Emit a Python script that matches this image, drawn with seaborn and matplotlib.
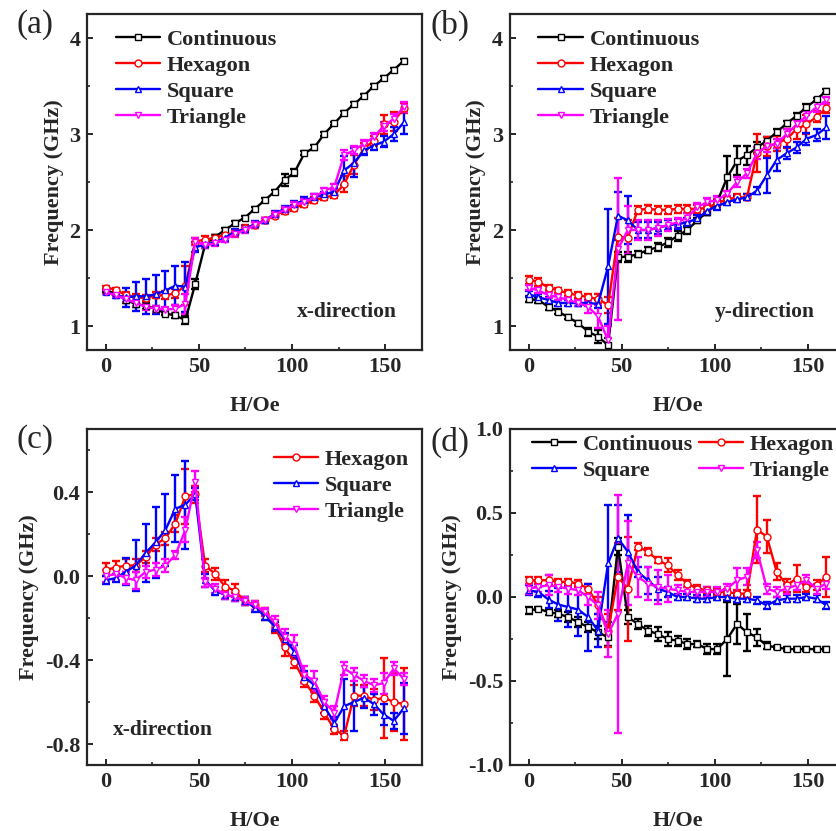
import numpy as np
import pandas as pd
import seaborn as sns
import matplotlib
matplotlib.use("Agg")
import matplotlib.pyplot as plt
from matplotlib.ticker import MultipleLocator

# field values (Oe)
H = [0, 5.3, 10.7, 16, 21.3, 26.7, 32, 37.3, 42.7, 48, 53.3, 58.7, 64, 69.3, 74.7, 80,
     85.3, 90.7, 96, 101.3, 106.7, 112, 117.3, 122.7, 128, 133.3, 138.7, 144, 149.3, 154.7, 160]

# (a) x-direction
a_cont = [1.37, 1.34, 1.27, 1.23, 1.21, 1.18, 1.13, 1.11, 1.06, 1.44, 1.85, 1.93, 2.00, 2.07, 2.13, 2.22,
          2.31, 2.40, 2.52, 2.60, 2.80, 2.86, 3.00, 3.11, 3.22, 3.31, 3.40, 3.50, 3.58, 3.67, 3.76]
a_cont_err = [0.02, 0.02, 0.03, 0.03, 0.03, 0.03, 0.02, 0.03, 0.04, 0.05, 0.03, 0.02, 0.02, 0.02, 0.02, 0.02,
              0.02, 0.02, 0.06, 0.04, 0.02, 0.03, 0.02, 0.02, 0.02, 0.02, 0.02, 0.02, 0.02, 0.02, 0.02]
a_hex = [1.40, 1.38, 1.32, 1.30, 1.29, 1.32, 1.32, 1.34, 1.42, 1.88, 1.90, 1.92, 1.95, 1.97, 2.02, 2.05,
         2.10, 2.15, 2.20, 2.23, 2.27, 2.31, 2.34, 2.36, 2.48, 2.68, 2.85, 2.93, 3.10, 3.13, 3.27]
a_hex_err = [0.02, 0.02, 0.03, 0.03, 0.03, 0.03, 0.04, 0.05, 0.20, 0.04, 0.04, 0.03, 0.03, 0.03, 0.03, 0.03,
             0.03, 0.03, 0.03, 0.03, 0.03, 0.03, 0.03, 0.03, 0.08, 0.10, 0.06, 0.05, 0.10, 0.10, 0.05]
a_sq = [1.35, 1.32, 1.30, 1.31, 1.31, 1.33, 1.37, 1.42, 1.41, 1.82, 1.85, 1.87, 1.92, 1.98, 2.01, 2.06,
        2.10, 2.17, 2.22, 2.27, 2.31, 2.34, 2.37, 2.40, 2.62, 2.70, 2.83, 2.88, 2.92, 3.00, 3.12]
a_sq_err = [0.02, 0.03, 0.10, 0.15, 0.18, 0.20, 0.20, 0.20, 0.26, 0.05, 0.04, 0.03, 0.03, 0.03, 0.03, 0.03,
            0.03, 0.03, 0.03, 0.03, 0.03, 0.03, 0.03, 0.04, 0.15, 0.15, 0.05, 0.05, 0.06, 0.07, 0.12]
a_tri = [1.35, 1.32, 1.28, 1.24, 1.20, 1.18, 1.17, 1.18, 1.23, 1.88, 1.84, 1.86, 1.90, 1.96, 2.00, 2.05,
         2.10, 2.16, 2.21, 2.26, 2.29, 2.34, 2.41, 2.45, 2.78, 2.83, 2.90, 2.97, 3.08, 3.16, 3.28]
a_tri_err = [0.02, 0.02, 0.03, 0.03, 0.03, 0.03, 0.03, 0.04, 0.10, 0.04, 0.03, 0.03, 0.03, 0.03, 0.03, 0.03,
             0.03, 0.03, 0.03, 0.03, 0.03, 0.03, 0.03, 0.03, 0.05, 0.04, 0.04, 0.04, 0.05, 0.05, 0.05]

# (b) y-direction
b_cont = [1.28, 1.27, 1.20, 1.15, 1.09, 1.03, 0.94, 0.89, 0.80, 1.72, 1.72, 1.75, 1.79, 1.82, 1.87, 1.94,
          2.00, 2.10, 2.19, 2.29, 2.55, 2.72, 2.78, 2.86, 2.93, 3.02, 3.11, 3.19, 3.28, 3.36, 3.45]
b_cont_err = [0.03, 0.03, 0.03, 0.03, 0.02, 0.02, 0.04, 0.07, 0.08, 0.05, 0.05, 0.03, 0.03, 0.04, 0.05, 0.05,
              0.04, 0.03, 0.03, 0.03, 0.22, 0.15, 0.10, 0.06, 0.04, 0.03, 0.03, 0.03, 0.03, 0.02, 0.02]
b_hex = [1.48, 1.46, 1.40, 1.37, 1.34, 1.32, 1.30, 1.28, 1.22, 1.93, 1.92, 2.21, 2.22, 2.21, 2.21, 2.22,
         2.22, 2.22, 2.23, 2.28, 2.32, 2.34, 2.34, 2.80, 2.87, 2.90, 2.95, 3.05, 3.10, 3.18, 3.27]
b_hex_err = [0.04, 0.04, 0.03, 0.03, 0.03, 0.03, 0.03, 0.05, 0.08, 0.20, 0.18, 0.04, 0.04, 0.04, 0.04, 0.04,
             0.04, 0.04, 0.04, 0.04, 0.03, 0.03, 0.03, 0.20, 0.10, 0.08, 0.10, 0.10, 0.10, 0.06, 0.05]
b_sq = [1.33, 1.30, 1.27, 1.24, 1.24, 1.24, 1.24, 1.23, 1.62, 2.15, 2.10, 2.00, 2.00, 2.02, 2.05, 2.06,
        2.08, 2.12, 2.20, 2.25, 2.29, 2.32, 2.34, 2.41, 2.57, 2.73, 2.80, 2.86, 2.95, 2.99, 3.07]
b_sq_err = [0.03, 0.03, 0.03, 0.03, 0.03, 0.03, 0.03, 0.04, 0.60, 0.25, 0.25, 0.08, 0.08, 0.06, 0.05, 0.05,
            0.05, 0.04, 0.04, 0.04, 0.03, 0.03, 0.03, 0.04, 0.18, 0.12, 0.06, 0.06, 0.06, 0.06, 0.12]
b_tri = [1.40, 1.37, 1.32, 1.30, 1.27, 1.24, 1.20, 1.10, 0.85, 1.80, 2.00, 2.00, 2.00, 2.02, 2.05, 2.08,
         2.13, 2.24, 2.29, 2.31, 2.38, 2.50, 2.59, 2.80, 2.87, 2.90, 3.00, 3.10, 3.19, 3.28, 3.35]
b_tri_err = [0.03, 0.03, 0.03, 0.03, 0.03, 0.03, 0.06, 0.12, 0.15, 0.74, 0.25, 0.10, 0.10, 0.08, 0.06, 0.05,
             0.05, 0.04, 0.04, 0.04, 0.03, 0.05, 0.05, 0.06, 0.06, 0.05, 0.05, 0.05, 0.05, 0.05, 0.04]

# (c) x-direction, difference
c_hex = [0.03, 0.04, 0.05, 0.05, 0.09, 0.15, 0.18, 0.25, 0.38, 0.39, 0.05, 0.01, -0.05, -0.07, -0.12, -0.14,
         -0.18, -0.24, -0.34, -0.41, -0.50, -0.57, -0.65, -0.73, -0.76, -0.57, -0.57, -0.59, -0.58, -0.60, -0.61]
c_hex_err = [0.03, 0.03, 0.03, 0.03, 0.03, 0.03, 0.03, 0.04, 0.13, 0.04, 0.03, 0.03, 0.03, 0.03, 0.02, 0.02,
             0.03, 0.03, 0.04, 0.03, 0.03, 0.03, 0.03, 0.02, 0.02, 0.05, 0.05, 0.05, 0.19, 0.14, 0.17]
c_sq = [-0.02, -0.01, 0.02, 0.05, 0.11, 0.16, 0.22, 0.32, 0.34, 0.39, -0.02, -0.07, -0.09, -0.10, -0.12, -0.15,
        -0.19, -0.24, -0.30, -0.36, -0.48, -0.52, -0.62, -0.70, -0.62, -0.60, -0.58, -0.61, -0.66, -0.69, -0.63]
c_sq_err = [0.02, 0.02, 0.065, 0.12, 0.14, 0.17, 0.17, 0.16, 0.21, 0.03, 0.03, 0.02, 0.02, 0.02, 0.02, 0.02,
            0.02, 0.02, 0.03, 0.03, 0.03, 0.03, 0.03, 0.03, 0.13, 0.14, 0.05, 0.05, 0.05, 0.04, 0.12]
c_tri = [0.00, 0.01, -0.01, -0.02, 0.02, 0.03, 0.05, 0.10, 0.22, 0.45, -0.03, -0.06, -0.09, -0.10, -0.12, -0.14,
         -0.17, -0.22, -0.29, -0.33, -0.47, -0.50, -0.60, -0.65, -0.44, -0.47, -0.50, -0.52, -0.51, -0.44, -0.49]
c_tri_err = [0.03, 0.03, 0.03, 0.04, 0.03, 0.03, 0.03, 0.02, 0.06, 0.05, 0.02, 0.02, 0.02, 0.02, 0.02, 0.02,
             0.02, 0.03, 0.04, 0.05, 0.04, 0.05, 0.03, 0.03, 0.03, 0.03, 0.03, 0.03, 0.05, 0.03, 0.03]

# (d)
d_cont = [-0.08, -0.07, -0.09, -0.10, -0.12, -0.15, -0.18, -0.21, -0.24, 0.30, -0.12, -0.16, -0.20, -0.22, -0.25, -0.26,
          -0.28, -0.28, -0.31, -0.31, -0.25, -0.16, -0.21, -0.24, -0.29, -0.30, -0.31, -0.31, -0.31, -0.31, -0.31]
d_cont_err = [0.02, 0.01, 0.02, 0.02, 0.03, 0.03, 0.03, 0.04, 0.05, 0.05, 0.04, 0.03, 0.03, 0.04, 0.04, 0.03,
              0.03, 0.02, 0.03, 0.03, 0.22, 0.12, 0.11, 0.05, 0.02, 0.01, 0.01, 0.01, 0.01, 0.01, 0.01]
d_hex = [0.10, 0.10, 0.10, 0.09, 0.09, 0.08, 0.05, -0.05, -0.20, 0.12, 0.05, 0.30, 0.27, 0.22, 0.19, 0.13,
         0.08, 0.05, 0.04, 0.03, 0.03, 0.02, 0.02, 0.40, 0.36, 0.15, 0.07, 0.11, 0.06, 0.07, 0.12]
d_hex_err = [0.02, 0.02, 0.03, 0.02, 0.02, 0.02, 0.03, 0.05, 0.10, 0.20, 0.31, 0.02, 0.02, 0.02, 0.04, 0.03,
             0.02, 0.02, 0.02, 0.02, 0.02, 0.02, 0.02, 0.20, 0.10, 0.05, 0.04, 0.08, 0.03, 0.03, 0.12]
d_sq = [0.04, 0.03, -0.015, -0.045, -0.06, -0.075, -0.12, -0.20, 0.20, 0.35, 0.27, 0.15, 0.10, 0.05, 0.03, 0.00,
        0.00, -0.01, -0.01, 0.00, 0.00, -0.01, -0.01, -0.02, -0.05, -0.02, -0.01, -0.01, 0.00, -0.01, -0.05]
d_sq_err = [0.03, 0.03, 0.05, 0.10, 0.12, 0.16, 0.20, 0.10, 0.35, 0.20, 0.22, 0.03, 0.08, 0.07, 0.03, 0.02,
            0.02, 0.02, 0.02, 0.02, 0.02, 0.02, 0.02, 0.02, 0.02, 0.02, 0.02, 0.02, 0.02, 0.02, 0.02]
d_tri = [0.05, 0.06, 0.07, 0.06, 0.05, 0.04, 0.00, -0.05, -0.22, -0.10, 0.20, 0.12, 0.08, 0.06, 0.05, 0.04,
         0.03, 0.03, 0.03, 0.03, 0.05, 0.10, 0.12, 0.28, 0.05, 0.03, 0.05, 0.07, 0.10, 0.05, 0.08]
d_tri_err = [0.03, 0.03, 0.06, 0.03, 0.03, 0.03, 0.05, 0.08, 0.14, 0.71, 0.25, 0.12, 0.10, 0.10, 0.08, 0.03,
             0.03, 0.03, 0.03, 0.03, 0.03, 0.07, 0.05, 0.05, 0.03, 0.03, 0.03, 0.03, 0.03, 0.03, 0.03]

STYLE = {
    "Continuous": ("black", "s"),
    "Hexagon": ("#ff0000", "o"),
    "Square": ("#0000ff", "^"),
    "Triangle": ("#ff00ff", "v"),
}

sns.set_style("ticks")
plt.rcParams["font.family"] = ["Liberation Serif", "DejaVu Serif"]
plt.rcParams["font.weight"] = "bold"
plt.rcParams["axes.labelweight"] = "bold"
plt.rcParams["axes.linewidth"] = 1.6
plt.rcParams["xtick.direction"] = "in"
plt.rcParams["ytick.direction"] = "in"


def draw(ax, series):
    for name, y, err in series:
        color, marker = STYLE[name]
        ax.errorbar(H, y, yerr=err, fmt="none", ecolor=color, elinewidth=1.7,
                    capsize=3.2, capthick=1.7, zorder=2)
        df = pd.DataFrame({"H": H, "f": y})
        sns.lineplot(data=df, x="H", y="f", ax=ax, color=color, marker=marker,
                     markersize=5, markerfacecolor="white", markeredgecolor=color,
                     markeredgewidth=1.0, linewidth=1.7, label=name, zorder=3,
                     errorbar=None)
    ax.set_xlim(-10, 170)
    ax.set_xticks([0, 50, 100, 150])
    ax.xaxis.set_minor_locator(MultipleLocator(25))
    ax.set_xlabel("H/Oe", fontsize=16, labelpad=14)
    ax.set_ylabel("Frequency (GHz)", fontsize=16, labelpad=4)
    ax.tick_params(which="major", length=4, width=1.4, labelsize=16, pad=5)
    ax.tick_params(which="minor", length=2.5, width=1.2)


fig = plt.figure(figsize=(8.36, 8.31), dpi=100)
W, Hh = 836, 831


def axes_px(left, top, width=335, height=336):
    return fig.add_axes([left / W, 1 - (top + height) / Hh, width / W, height / Hh])


ax_a = axes_px(87.3, 14)
ax_b = axes_px(510, 14)
ax_c = axes_px(87.3, 429)
ax_d = axes_px(510, 429)

draw(ax_a, [("Continuous", a_cont, a_cont_err), ("Hexagon", a_hex, a_hex_err),
            ("Square", a_sq, a_sq_err), ("Triangle", a_tri, a_tri_err)])
draw(ax_b, [("Continuous", b_cont, b_cont_err), ("Hexagon", b_hex, b_hex_err),
            ("Square", b_sq, b_sq_err), ("Triangle", b_tri, b_tri_err)])
draw(ax_c, [("Hexagon", c_hex, c_hex_err), ("Square", c_sq, c_sq_err),
            ("Triangle", c_tri, c_tri_err)])
draw(ax_d, [("Continuous", d_cont, d_cont_err), ("Hexagon", d_hex, d_hex_err),
            ("Square", d_sq, d_sq_err), ("Triangle", d_tri, d_tri_err)])

for ax in (ax_a, ax_b):
    ax.set_ylim(0.75, 4.25)
    ax.set_yticks([1, 2, 3, 4])
    ax.yaxis.set_minor_locator(MultipleLocator(0.5))
ax_c.set_ylim(-0.9, 0.7)
ax_c.set_yticks([-0.8, -0.4, 0.0, 0.4])
ax_c.set_yticklabels(["-0.8", "-0.4", "0.0", "0.4"])
ax_c.yaxis.set_minor_locator(MultipleLocator(0.2))
ax_d.set_ylim(-1.0, 1.0)
ax_d.set_yticks([-1.0, -0.5, 0.0, 0.5, 1.0])
ax_d.set_yticklabels(["-1.0", "-0.5", "0.0", "0.5", "1.0"])
ax_d.yaxis.set_minor_locator(MultipleLocator(0.25))
for ax in (ax_a, ax_b, ax_c, ax_d):
    for lab in ax.get_xticklabels() + ax.get_yticklabels():
        lab.set_fontweight("bold")

leg_kw = dict(frameon=False, fontsize=16, handlelength=2.0, handletextpad=0.3,
              labelspacing=0.25, borderaxespad=0, borderpad=0)
ax_a.legend(loc="upper left", bbox_to_anchor=(0.085, 0.955), **leg_kw)
ax_b.legend(loc="upper left", bbox_to_anchor=(0.085, 0.955), **leg_kw)
ax_c.legend(loc="upper right", bbox_to_anchor=(0.96, 0.94), **leg_kw)
h, l = ax_d.get_legend_handles_labels()
order = [0, 2, 1, 3]
ax_d.legend([h[i] for i in order], [l[i] for i in order], loc="upper left",
            bbox_to_anchor=(0.065, 0.985), ncol=2, columnspacing=0.25, **leg_kw)

ax_a.text(0.925, 0.113, "x-direction", transform=ax_a.transAxes, ha="right",
          va="center", fontsize=15.5, fontweight="bold")
ax_b.text(0.91, 0.113, "y-direction", transform=ax_b.transAxes, ha="right",
          va="center", fontsize=15.5, fontweight="bold")
ax_c.text(0.077, 0.104, "x-direction", transform=ax_c.transAxes, ha="left",
          va="center", fontsize=15.5, fontweight="bold")

for txt, x, y in [("(a)", 16, 25), ("(b)", 431, 25), ("(c)", 16, 440), ("(d)", 431, 442)]:
    fig.text(x / W, 1 - y / Hh, txt, ha="left", va="center", fontsize=24,
             fontweight="normal")

fig.savefig("out.png", dpi=100)
